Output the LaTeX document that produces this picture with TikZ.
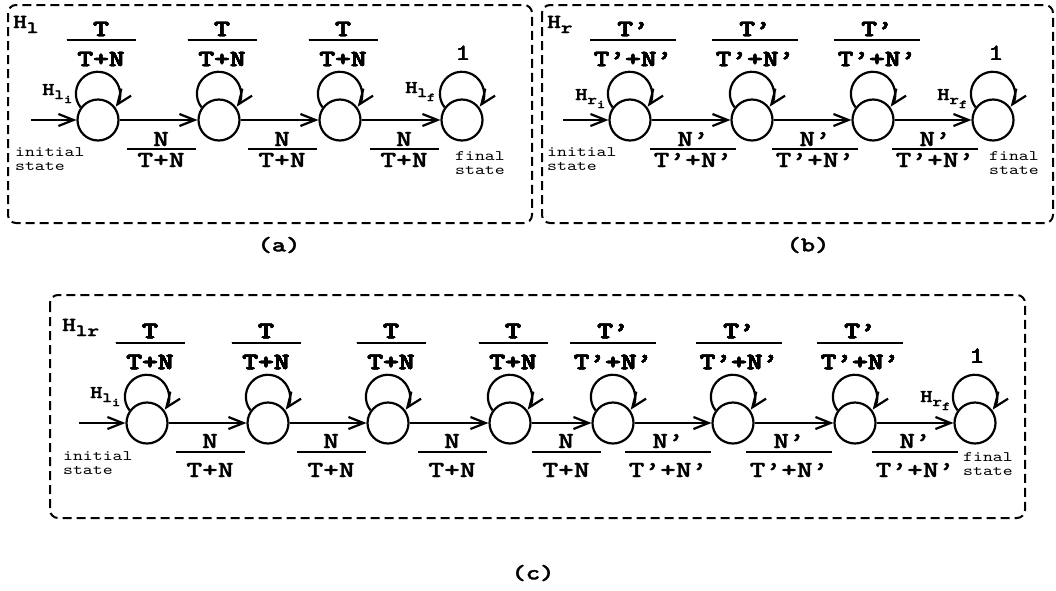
\documentclass[tikz,border=0pt]{standalone}
\usepackage{fontspec}
\newfontfamily\cour{lmmono10-regular}[Extension=.otf, BoldFont=lmmonolt10-bold, BoldFeatures={FakeBold=1.6}, FakeStretch=1.3]
\usetikzlibrary{arrows.meta}
\newcommand\fsz[1]{\fontsize{#1}{#1}\selectfont}
\newcommand\Hsub[2]{{\bfseries\fsz{18}H\raisebox{-4pt}{\fsz{14}#1\raisebox{-4pt}{\fsz{12}#2}}}}
\newcommand\Htop[1]{{\bfseries\fsz{20}H\raisebox{-5pt}{\fsz{17}#1}}}
\newcommand\frc[8]{%
  \node[fr] (#1n) at (#2,#3) {#6};
  \node[fr] (#1d) at (#2,#5) {#7};
  \draw[fbar] ({#2-#8/2},#4) -- ({#2+#8/2},#4);}
\tikzset{
  state/.style={circle, draw, line width=2.2pt, minimum size=41pt, inner sep=0pt},
  arr/.style={line width=2.2pt, -{Straight Barb[length=15pt,width=12pt]}},
  fr/.style={font=\cour\bfseries\fsz{23}, inner sep=0pt},
  fbar/.style={line width=2.2pt},
  smalltxt/.style={font=\cour\fsz{14.5}, inner sep=0pt, align=left},
  onelbl/.style={font=\cour\fsz{23}, inner sep=0pt},
  hl/.style={font=\cour, inner sep=0pt, anchor=base west},
  caplbl/.style={font=\cour\bfseries\fsz{21}, inner sep=0pt},
  panel/.style={line width=2pt, dash pattern=on 9pt off 5pt, rounded corners=8pt}
}
\newcommand\loopat[1]{\draw[arr] (#1.144) arc[start angle=218, end angle=-36, radius=22pt];}
\begin{document}
\begin{tikzpicture}[x=1pt,y=-1pt]
\useasboundingbox (0,0) rectangle (1056,590);
% ---------- panel (a)
\draw[panel] (8,5) rectangle (532,223);
\node[hl] (ha) at (13,28) {\Htop{l}};
\coordinate (a0) at (31,120);
\foreach \i/\x in {1/98,2/219,3/340,4/462} \node[state] (a\i) at (\x,120) {};
\draw[arr] (a0) -- (a1);
\foreach \i/\j in {1/2,2/3,3/4} \draw[arr] (a\i) -- (a\j);
\foreach \i in {1,2,3,4} \loopat{a\i}
\frc{fa1}{101}{29}{40}{59}{T}{T+N}{69}
\frc{fa2}{222}{29}{40}{59}{T}{T+N}{69}
\frc{fa3}{343}{29}{40}{59}{T}{T+N}{69}
\node[onelbl] (oa) at (463,53) {1};
\frc{ea1}{161}{139}{149}{160}{N}{T+N}{69}
\frc{ea2}{282}{139}{149}{160}{N}{T+N}{69}
\frc{ea3}{404}{139}{149}{160}{N}{T+N}{69}
\node[hl] (hai) at (42,95) {\Hsub{l}{i}};
\node[hl] (haf) at (405,93) {\Hsub{l}{f}};
\node[smalltxt, anchor=north west] (ia) at (15,147) {initial\\state};
\node[smalltxt, anchor=north west] (fa) at (455,151) {final\\state};
\node[caplbl] (la) at (279,245) {(a)};
% ---------- panel (b)
\draw[panel] (542,5) rectangle (1053,223);
\node[hl] (hb) at (547,28) {\Htop{r}};
\coordinate (b0) at (563,120);
\foreach \i/\x in {1/630,2/752,3/873,4/993} \node[state] (b\i) at (\x,120) {};
\draw[arr] (b0) -- (b1);
\foreach \i/\j in {1/2,2/3,3/4} \draw[arr] (b\i) -- (b\j);
\foreach \i in {1,2,3,4} \loopat{b\i}
\frc{fb1}{633}{29}{40}{59}{T’}{T’+N’}{86}
\frc{fb2}{755}{29}{40}{59}{T’}{T’+N’}{86}
\frc{fb3}{877}{29}{40}{59}{T’}{T’+N’}{86}
\node[onelbl] (ob) at (996,53) {1};
\frc{eb1}{693}{139}{149}{160}{N’}{T’+N’}{86}
\frc{eb2}{815}{139}{149}{160}{N’}{T’+N’}{86}
\frc{eb3}{935}{139}{149}{160}{N’}{T’+N’}{86}
\node[hl] (hbi) at (575,100) {\Hsub{r}{i}};
\node[hl] (hbf) at (937,100) {\Hsub{r}{f}};
\node[smalltxt, anchor=north west] (ib) at (547,147) {initial\\state};
\node[smalltxt, anchor=north west] (fb) at (989,151) {final\\state};
\node[caplbl] (lb) at (808,245) {(b)};
% ---------- panel (c)
\draw[panel] (50,295) rectangle (1025,518);
\node[hl] (hc) at (62,331) {\Htop{lr}};
\coordinate (c0) at (79,423);
\foreach \i/\x in {1/147,2/268,3/388,4/510,5/613,6/733,7/855,8/975} \node[state] (c\i) at (\x,423) {};
\draw[arr] (c0) -- (c1);
\foreach \i/\j in {1/2,2/3,3/4,4/5,5/6,6/7,7/8} \draw[arr] (c\i) -- (c\j);
\foreach \i in {1,...,8} \loopat{c\i}
\frc{fc1}{150}{331}{343}{362}{T}{T+N}{69}
\frc{fc2}{266}{331}{343}{362}{T}{T+N}{69}
\frc{fc3}{391}{331}{343}{362}{T}{T+N}{69}
\frc{fc4}{513}{331}{343}{362}{T}{T+N}{69}
\frc{fc5}{613}{331}{343}{362}{T’}{T’+N’}{86}
\frc{fc6}{739}{331}{343}{362}{T’}{T’+N’}{86}
\frc{fc7}{860}{331}{343}{362}{T’}{T’+N’}{86}
\node[onelbl] (oc) at (977,356) {1};
\frc{ec1}{210}{441}{452}{470}{N}{T+N}{69}
\frc{ec2}{331}{441}{452}{470}{N}{T+N}{69}
\frc{ec3}{452}{441}{452}{470}{N}{T+N}{69}
\frc{ec4}{566}{441}{452}{470}{N}{T+N}{69}
\frc{ec5}{668}{441}{452}{470}{N’}{T’+N’}{86}
\frc{ec6}{789}{441}{452}{470}{N’}{T’+N’}{86}
\frc{ec7}{915}{441}{452}{470}{N’}{T’+N’}{86}
\node[hl] (hci) at (90,398) {\Hsub{l}{i}};
\node[hl] (hcf) at (920,402) {\Hsub{r}{f}};
\node[smalltxt, anchor=north west] (ic) at (63,451) {initial\\state};
\node[smalltxt, anchor=north west] (fc) at (963,452) {final\\state};
\node[caplbl] (lc) at (533,573) {(c)};
\end{tikzpicture}
\end{document}
